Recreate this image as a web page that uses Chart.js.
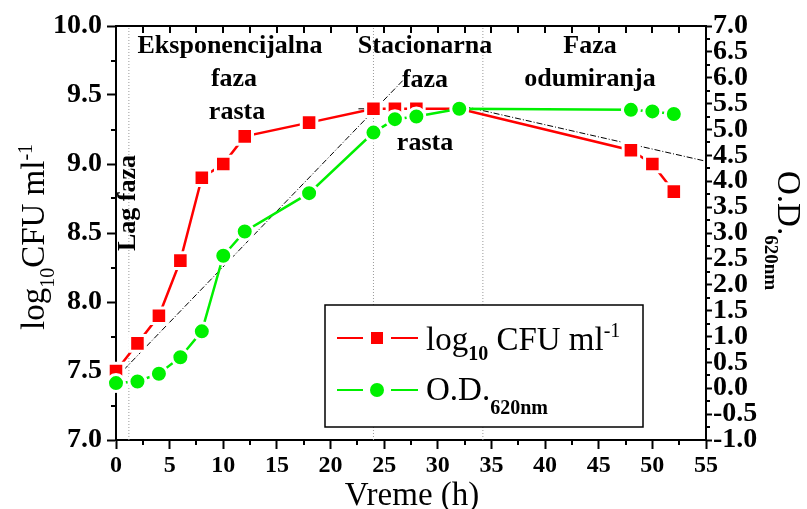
<!DOCTYPE html>
<html>
<head>
<meta charset="utf-8">
<script src="https://cdn.jsdelivr.net/npm/chart.js@4.4.1/dist/chart.umd.min.js"></script>
<style>
  html, body { margin: 0; padding: 0; background: #fff; }
  #wrap { width: 807px; height: 509px; }
</style>
</head>
<body>
<div id="wrap"><canvas id="growth" width="807" height="509"></canvas></div>
<script>
// Sampling times (h)
const hours = [0, 2, 4, 6, 8, 10, 12, 18, 24, 26, 28, 32, 48, 50, 52];
// Viable count, log10 CFU/ml (left axis)
const logCfu = [7.5, 7.7, 7.9, 8.3, 8.9, 9.0, 9.2, 9.3, 9.4, 9.4, 9.4, 9.4, 9.1, 9.0, 8.8];
// Optical density at 620 nm (right axis)
const od620 = [0.1, 0.13, 0.28, 0.6, 1.1, 2.56, 3.03, 3.77, 4.94, 5.2, 5.25, 5.4, 5.38, 5.35, 5.3];

// Phase boundaries (h)
const phaseBounds = [1.2, 24, 34.2];
// Trend lines on the log10 CFU scale: [hour, value] pairs
const growthTrend = [[0, 7.45], [26.8, 9.61]];
const plateauTrend = [[22.6, 9.40], [36.5, 9.40]];
const declineTrend = [[31.2, 9.44], [55, 9.02]];

// Phase captions: [text, centre x, baseline y]
const phaseLabels = [
  ['Eksponencijalna', 230, 53], ['faza', 234, 86], ['rasta', 237, 119],
  ['Stacionarna', 425, 53], ['faza', 425, 87], ['rasta', 425, 150],
  ['Faza', 590, 53], ['odumiranja', 590, 86]
];
const lagLabel = 'Lag faza';

const xRange = [0, 55, 5];
const leftRange = [7, 10, 0.5];
const rightRange = [-1, 7, 0.5];

const SERIF = "'Liberation Serif', 'Times New Roman', serif";
const RED = '#ff0000';
const GREEN = '#00f000';

function toXY(xs, ys) { return xs.map((x, i) => ({ x: x, y: ys[i] })); }
function pairs(p) { return p.map(a => ({ x: a[0], y: a[1] })); }

function fontStr(p) {
  return (p.weight || 'normal') + ' ' + p.size + 'px ' + SERIF;
}
function drawRich(ctx, x, y, angle, parts, align) {
  ctx.save();
  ctx.translate(x, y);
  ctx.rotate(angle);
  ctx.textBaseline = 'alphabetic';
  ctx.textAlign = 'left';
  ctx.fillStyle = '#000';
  const widths = parts.map(p => { ctx.font = fontStr(p); return ctx.measureText(p.t).width; });
  const total = widths.reduce((a, b) => a + b, 0);
  let cx = align === 'center' ? -total / 2 : 0;
  parts.forEach((p, i) => {
    ctx.font = fontStr(p);
    ctx.fillText(p.t, cx, p.dy || 0);
    cx += widths[i];
  });
  ctx.restore();
}

const guideStyle = {
  yAxisID: 'y', borderColor: '#9a9a9a', borderWidth: 1, borderDash: [1, 2],
  pointRadius: 0, fill: false, order: 10
};
const trendStyle = {
  yAxisID: 'y', borderColor: '#000', borderWidth: 1, borderDash: [6, 2, 1, 2],
  pointRadius: 0, fill: false, order: 9
};

const datasets = [];
phaseBounds.forEach(h => {
  datasets.push(Object.assign({ data: [{ x: h, y: leftRange[0] }, { x: h, y: leftRange[1] }] }, guideStyle));
});
[growthTrend, plateauTrend, declineTrend].forEach(t => {
  datasets.push(Object.assign({ data: pairs(t) }, trendStyle));
});
datasets.push({
  label: 'log10 CFU ml-1', data: toXY(hours, logCfu), yAxisID: 'y',
  borderColor: RED, backgroundColor: RED, borderWidth: 2.5,
  pointStyle: 'rect', pointRadius: 11, pointBorderColor: '#fff', pointBorderWidth: 3,
  pointBackgroundColor: RED, clip: false, order: 2
});
datasets.push({
  label: 'O.D.620nm', data: toXY(hours, od620), yAxisID: 'y1',
  borderColor: GREEN, backgroundColor: GREEN, borderWidth: 2.5,
  pointStyle: 'circle', pointRadius: 8.5, pointBorderColor: '#fff', pointBorderWidth: 3,
  pointBackgroundColor: GREEN, clip: false, order: 1
});

const xTickFont = { family: SERIF, size: 24, weight: 'bold' };
const yTickFont = { family: SERIF, size: 28, weight: 'bold' };

// Minor ticks, top frame line and its inward ticks
const framePlugin = {
  id: 'frame',
  afterDraw(chart) {
    const ctx = chart.ctx;
    const a = chart.chartArea;
    const xs = chart.scales.x, yl = chart.scales.y, yr = chart.scales.y1;
    ctx.save();
    ctx.strokeStyle = '#000';
    ctx.lineWidth = 2;
    ctx.beginPath();
    ctx.moveTo(a.left - 1, a.top); ctx.lineTo(a.right + 1, a.top);
    for (let v = xRange[0] + xRange[2] / 2; v < xRange[1]; v += xRange[2] / 2) {
      const px = Math.round(xs.getPixelForValue(v));
      ctx.moveTo(px, a.top); ctx.lineTo(px, a.top + 7);
    }
    for (let v = xRange[0] + xRange[2] / 2; v < xRange[1]; v += xRange[2]) {
      const px = Math.round(xs.getPixelForValue(v));
      ctx.moveTo(px, a.bottom); ctx.lineTo(px, a.bottom + 5);
    }
    for (let v = leftRange[0] + leftRange[2] / 2; v < leftRange[1]; v += leftRange[2]) {
      const py = Math.round(yl.getPixelForValue(v));
      ctx.moveTo(a.left, py); ctx.lineTo(a.left - 5, py);
    }
    for (let v = rightRange[0] + rightRange[2] / 2; v < rightRange[1]; v += rightRange[2]) {
      const py = Math.round(yr.getPixelForValue(v));
      ctx.moveTo(a.right, py); ctx.lineTo(a.right + 4, py);
    }
    ctx.stroke();
    ctx.restore();
  }
};

// Phase captions
const captionPlugin = {
  id: 'captions',
  afterDatasetsDraw(chart) {
    const ctx = chart.ctx;
    phaseLabels.forEach(l => {
      drawRich(ctx, l[1], l[2], 0, [{ t: l[0], size: 26, weight: 'bold' }], 'center');
    });
    drawRich(ctx, 135, 203, -Math.PI / 2, [{ t: lagLabel, size: 26, weight: 'bold' }], 'center');
  }
};

// Axis titles with sub/superscripts
const titlePlugin = {
  id: 'titles',
  afterDraw(chart) {
    const ctx = chart.ctx;
    drawRich(ctx, 44, 330, -Math.PI / 2, [
      { t: 'log', size: 33 }, { t: '10', size: 20, dy: 10 },
      { t: 'CFU ml', size: 33 }, { t: '-1', size: 20, dy: -12 }
    ]);
    drawRich(ctx, 412, 505, 0, [{ t: 'Vreme (h)', size: 33 }], 'center');
    drawRich(ctx, 778, 171, Math.PI / 2, [
      { t: 'O.D.', size: 33 }, { t: '620nm', size: 19, weight: 'bold', dy: 13 }
    ]);
  }
};

// Legend box
const legendPlugin = {
  id: 'legendBox',
  afterDraw(chart) {
    const ctx = chart.ctx;
    const box = { l: 325, t: 305, r: 643, b: 427 };
    ctx.save();
    ctx.fillStyle = '#fff';
    ctx.fillRect(box.l, box.t, box.r - box.l, box.b - box.t);
    ctx.strokeStyle = '#000';
    ctx.lineWidth = 1.5;
    ctx.strokeRect(box.l, box.t, box.r - box.l, box.b - box.t);
    const rows = [
      { y: 338, color: RED, shape: 'rect', text: [
        { t: 'log', size: 33, dy: 12 }, { t: '10', size: 20, weight: 'bold', dy: 22 },
        { t: ' CFU ml', size: 33, dy: 12 }, { t: '-1', size: 20, dy: -1 }] },
      { y: 390, color: GREEN, shape: 'circle', text: [
        { t: 'O.D.', size: 33, dy: 10 }, { t: '620nm', size: 20, weight: 'bold', dy: 24 }] }
    ];
    rows.forEach(r => {
      ctx.strokeStyle = r.color;
      ctx.lineWidth = 2;
      ctx.beginPath();
      ctx.moveTo(337, r.y); ctx.lineTo(363, r.y);
      ctx.moveTo(391, r.y); ctx.lineTo(418, r.y);
      ctx.stroke();
      ctx.fillStyle = r.color;
      if (r.shape === 'rect') {
        ctx.fillRect(371, r.y - 6, 12, 12);
      } else {
        ctx.beginPath(); ctx.arc(377, r.y, 7, 0, Math.PI * 2); ctx.fill();
      }
      drawRich(ctx, 426, r.y, 0, r.text);
    });
    ctx.restore();
  }
};

new Chart(document.getElementById('growth'), {
  type: 'line',
  data: { datasets: datasets },
  options: {
    responsive: false,
    animation: false,
    devicePixelRatio: 1,
    layout: { padding: { top: 26, left: 0, right: 0, bottom: 0 } },
    plugins: { legend: { display: false }, tooltip: { enabled: false } },
    scales: {
      x: {
        type: 'linear', position: 'bottom',
        min: xRange[0], max: xRange[1],
        ticks: { stepSize: xRange[2], font: xTickFont, color: '#000', padding: 2, maxRotation: 0, autoSkip: false },
        grid: { drawOnChartArea: false, drawTicks: true, tickLength: 9, tickWidth: 2, tickColor: '#000' },
        border: { display: true, color: '#000', width: 2 },
        afterFit(s) { s.height = 69; }
      },
      y: {
        position: 'left',
        min: leftRange[0], max: leftRange[1],
        ticks: { stepSize: leftRange[2], font: yTickFont, color: '#000', padding: 5, autoSkip: false, callback: v => Number(v).toFixed(1) },
        grid: { drawOnChartArea: false, drawTicks: true, tickLength: 9, tickWidth: 2, tickColor: '#000' },
        border: { display: true, color: '#000', width: 2 },
        afterFit(s) { s.width = 116; }
      },
      y1: {
        position: 'right',
        min: rightRange[0], max: rightRange[1],
        ticks: { stepSize: rightRange[2], font: yTickFont, color: '#000', padding: 1, autoSkip: false, callback: v => Number(v).toFixed(1) },
        grid: { drawOnChartArea: false, drawTicks: true, tickLength: 6, tickWidth: 2, tickColor: '#000' },
        border: { display: true, color: '#000', width: 2 },
        afterFit(s) { s.width = 101; }
      }
    }
  },
  plugins: [framePlugin, captionPlugin, titlePlugin, legendPlugin]
});
</script>
</body>
</html>
